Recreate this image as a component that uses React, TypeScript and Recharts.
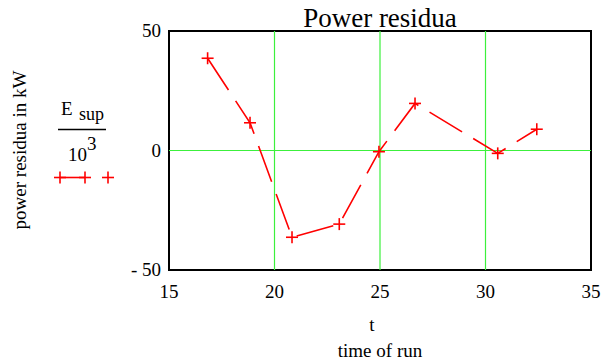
import React from "react";
import { LineChart, Line, XAxis, YAxis, ReferenceLine, ReferenceArea } from "recharts";

// time of run (t) and power residua (E_sup / 10^3, kW)
const runTime = [16.83, 18.84, 20.83, 23.07, 24.95, 26.66, 30.58, 32.43];
const residua = [38.6, 11.6, -36.3, -30.8, -0.5, 19.7, -1.2, 8.9];
const xTicks = [15, 20, 25, 30, 35];
const yTicks = [-50, 0, 50];
const xGrid = [20, 25, 30];
const yGrid = [0];

const data = runTime.map((t, i) => ({ t, e: residua[i] }));

const FONT = "'Liberation Serif', 'Times New Roman', serif";
const RED = "#ff0000";
const GREEN = "#3cf03c";

function PlusDot(props: any) {
  const { cx, cy } = props;
  if (cx == null || cy == null) return null;
  const s = 6;
  return (
    <g>
      <line x1={cx - s} y1={cy} x2={cx + s} y2={cy} stroke={RED} strokeWidth={1.6} />
      <line x1={cx} y1={cy - s} x2={cx} y2={cy + s} stroke={RED} strokeWidth={1.6} />
    </g>
  );
}

function XTick({ x, y, payload }: any) {
  return (
    <g>
      <text x={x} y={y + 20} textAnchor="middle" style={{ fontSize: 19, fontFamily: FONT, fill: "#000" }}>
        {payload.value}
      </text>
    </g>
  );
}

function YTick({ x, y, payload }: any) {
  const v = payload.value;
  return (
    <g>
      <text x={x} y={y + 6} textAnchor="end" style={{ fontSize: 19, fontFamily: FONT, fill: "#000" }}>
        {v < 0 ? "- " + Math.abs(v) : v}
      </text>
    </g>
  );
}

export default function App() {
  return (
    <div style={{ position: "absolute", left: 0, top: 0, width: 605, height: 364, background: "#fff", fontFamily: FONT }}>
      <LineChart
        width={605}
        height={364}
        data={data}
        margin={{ top: 31, right: 14, bottom: 64, left: 109 }}
        style={{ fontFamily: FONT }}
      >
        <XAxis
          dataKey="t"
          type="number"
          domain={[15, 35]}
          ticks={xTicks}
          height={30}
          axisLine={false}
          tickLine={false}
          tick={(p: any) => <XTick {...p} />}
          interval={0}
        />
        <YAxis
          type="number"
          domain={[-50, 50]}
          ticks={yTicks}
          width={60}
          axisLine={false}
          tickLine={false}
          tick={(p: any) => <YTick {...p} />}
          interval={0}
        />
        {xGrid.map((x) => (
          <ReferenceLine key={"x" + x} x={x} stroke={GREEN} strokeWidth={1.2} />
        ))}
        {yGrid.map((y) => (
          <ReferenceLine key={"y" + y} y={y} stroke={GREEN} strokeWidth={1.2} />
        ))}
        <ReferenceArea x1={15} x2={35} y1={-50} y2={50} fill="none" stroke="#000" strokeWidth={2} />
        <Line
          dataKey="e"
          stroke={RED}
          strokeWidth={1.6}
          strokeDasharray="38 13"
          dot={(p: any) => <PlusDot key={p.index} {...p} />}
          isAnimationActive={false}
        />
      </LineChart>
      <svg width={605} height={364} style={{ position: "absolute", left: 0, top: 0, pointerEvents: "none", fontFamily: FONT }}>
        <text x={380} y={27} textAnchor="middle" fontSize={27} fill="#000">Power residua</text>
        <text x={372} y={331} textAnchor="middle" fontSize={19} fill="#000">t</text>
        <text x={380} y={357} textAnchor="middle" fontSize={19} fill="#000">time of run</text>
        <text x={0} y={0} transform="translate(26,150) rotate(-90)" textAnchor="middle" fontSize={19} fill="#000">
          power residua in kW
        </text>
        <text x={61} y={115} fontSize={19} fill="#000">E</text>
        <text x={79} y={120} fontSize={18} fill="#000">sup</text>
        <line x1={58} y1={129.5} x2={106} y2={129.5} stroke="#000" strokeWidth={1.5} />
        <text x={68} y={161} fontSize={19} fill="#000">10</text>
        <text x={87} y={150} fontSize={19} fill="#000">3</text>
        <line x1={60} y1={177.5} x2={85} y2={177.5} stroke={RED} strokeWidth={1.6} />
        <PlusDot cx={60} cy={177.5} />
        <PlusDot cx={85} cy={177.5} />
        <PlusDot cx={108} cy={177.5} />
      </svg>
    </div>
  );
}
